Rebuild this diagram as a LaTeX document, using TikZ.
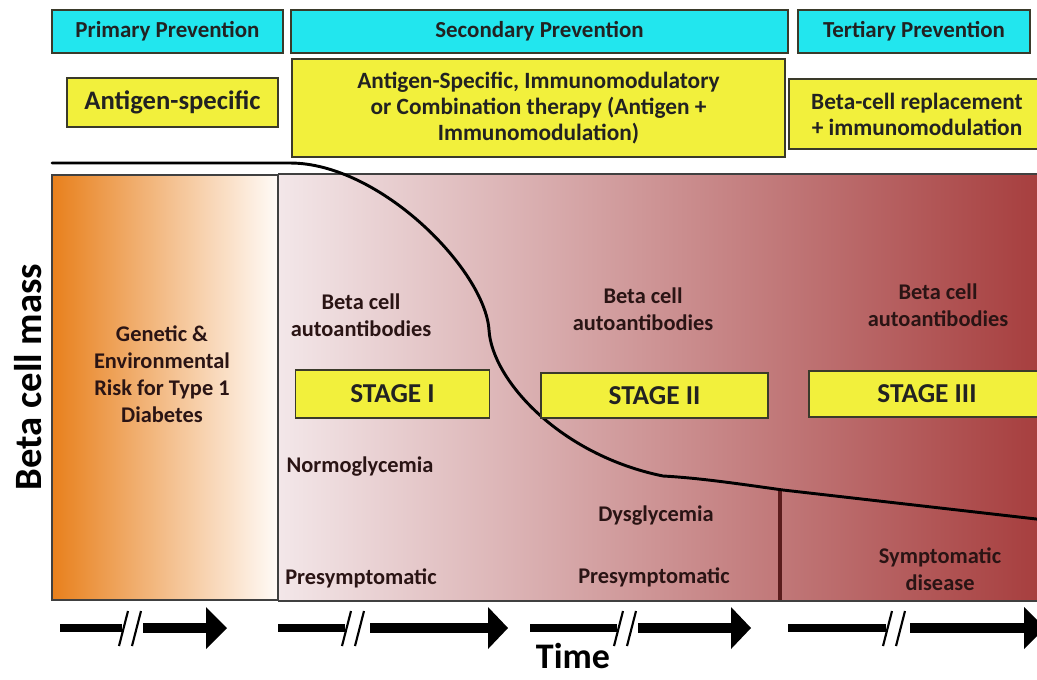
\documentclass[tikz,border=0pt]{standalone}
\usepackage{fontspec}
\setmainfont{Carlito}
\definecolor{cyanfill}{HTML}{22E6EE}
\definecolor{yellowfill}{HTML}{F2F03C}
\definecolor{boxline}{HTML}{3A3A2A}
\definecolor{textdark}{HTML}{222222}
\definecolor{regtext}{HTML}{2A1414}
\definecolor{pinkL}{HTML}{F3E7E9}
\definecolor{pinkM}{HTML}{D09A9C}
\definecolor{redR}{HTML}{A63D3D}
\definecolor{orangeL}{HTML}{E8801C}
\definecolor{orangeM}{HTML}{F2B07A}
\definecolor{orangeR}{HTML}{FFFBF8}
\definecolor{divred}{HTML}{5A1C1C}
\newcommand\timearrow[6]{%
  \coordinate (#1s) at (#2,628);
  \coordinate (#1b) at (#3,628);
  \coordinate (#1r) at (#4,628);
  \coordinate (#1h) at (#5,628);
  \coordinate (#1t) at (#6,628);
  \draw[shaftL] (#1s) -- (#1b);
  \draw[shaftR] (#1r) -- (#1h);
  \fill[black] (#1t) -- ([yshift=15.75pt]#1h) -- ([yshift=-15.75pt]#1h) -- cycle;
  \draw[slashmark] ({#3-3},646) -- ({#3+6},611);
  \draw[slashmark] ({#3+10},646) -- ({#3+19},611);
}
\begin{document}
\begin{tikzpicture}[x=0.75pt,y=-0.75pt,
  boxsz/.style 2 args={minimum width=#1*0.75pt, minimum height=#2*0.75pt, inner sep=0pt},
  cyanbox/.style={draw=boxline, fill=cyanfill, line width=0.9pt, text=textdark, font=\bfseries\fontsize{17.2}{20}\selectfont},
  yellowbox/.style={draw=boxline, fill=yellowfill, line width=0.9pt, text=textdark, align=center, font=\bfseries\fontsize{17.5}{19.5}\selectfont},
  stagebox/.style={draw=boxline, fill=yellowfill, line width=0.9pt, text=textdark, font=\bfseries\fontsize{20.5}{23}\selectfont},
  regtxt/.style={text=regtext, align=center, font=\bfseries\fontsize{16.8}{20.2}\selectfont},
  axislbl/.style={text=black, inner sep=0pt, font=\bfseries\fontsize{29}{32}\selectfont},
  shaftL/.style={line width=6pt, black},
  shaftR/.style={line width=7pt, black},
  slashmark/.style={line width=1.6pt, black},
  curveline/.style={line width=2.2pt, black, line cap=round},
  divider/.style={line width=2.4pt, divred},
  regionborder/.style={draw=black!75, line width=1pt}]
\useasboundingbox (0,0) rectangle (1037,679);
\fill[white] (0,0) rectangle (1037,679);

% shaded regions
\shade[left color=pinkL, middle color=pinkM, right color=redR] (278,174) rectangle (1045,601);
\draw[regionborder] (278,174) -- (1045,174);
\draw[regionborder] (278,601) -- (1045,601);
\shade[left color=orangeL, middle color=orangeM, right color=orangeR] (52,175) rectangle (278,600);
\draw[regionborder, line width=1.4pt] (52,175) rectangle (278,600);

% divider
\draw[divider] (780,490) -- (780,600);

% beta cell mass curve
\draw[curveline] (52,163) -- (290,163) .. controls (380,163) and (485,270) .. (489,330)
  .. controls (492,380) and (560,455) .. (663,476)
  .. controls (700,478) and (740,484) .. (783,490) -- (1045,520);

% prevention headers
\node[cyanbox, boxsz={231}{43}] (prim) at (167.5,31.5) {Primary Prevention};
\node[cyanbox, boxsz={497}{43}] (sec) at (539.5,31.5) {Secondary Prevention};
\node[cyanbox, boxsz={232}{43}] (tert) at (914,31.5) {Tertiary Prevention};

% therapy boxes
\node[yellowbox, boxsz={211}{49}, font=\bfseries\fontsize{20}{23}\selectfont] (th1) at (172.5,102.5) {Antigen-specific};
\node[yellowbox, boxsz={493}{98}] (th2) at (538.5,108) {Antigen-Specific, Immunomodulatory\\or Combination therapy (Antigen +\\Immunomodulation)};
\node[yellowbox, boxsz={256}{70}] (th3) at (917,114) {Beta-cell replacement\\+ immunomodulation};

% stage boxes
\node[stagebox, boxsz={194}{48}] (st1) at (392.5,394) {STAGE I};
\node[stagebox, boxsz={227}{45}] (st2) at (654.5,395.5) {STAGE II};
\node[stagebox, boxsz={236}{46}] (st3) at (927,394) {STAGE III};

% region texts
\node[regtxt] (risk) at (162,374) {Genetic \&\\Environmental\\Risk for Type 1\\Diabetes};
\node[regtxt] (ab1) at (361,315) {Beta cell\\autoantibodies};
\node[regtxt] (ab2) at (643,309) {Beta cell\\autoantibodies};
\node[regtxt] (ab3) at (938,305) {Beta cell\\autoantibodies};
\node[regtxt] (normo) at (360,467) {Normoglycemia};
\node[regtxt] (pre1) at (361,578) {Presymptomatic};
\node[regtxt] (dys) at (656,516) {Dysglycemia};
\node[regtxt] (pre2) at (654,577) {Presymptomatic};
\node[regtxt] (symp) at (940,569) {Symptomatic\\disease};

% axis labels
\node[axislbl, rotate=90] (ylab) at (28,377) {Beta cell mass};
\node[axislbl, font=\bfseries\fontsize{27}{30}\selectfont] (xlab) at (573,656) {Time};

% time arrows
\timearrow{ta}{60}{122}{143}{206}{227}
\timearrow{tb}{278}{345}{370}{488}{508}
\timearrow{tc}{530}{617}{638}{731}{751}
\timearrow{td}{788}{886}{910}{1024}{1045}
\end{tikzpicture}
\end{document}
